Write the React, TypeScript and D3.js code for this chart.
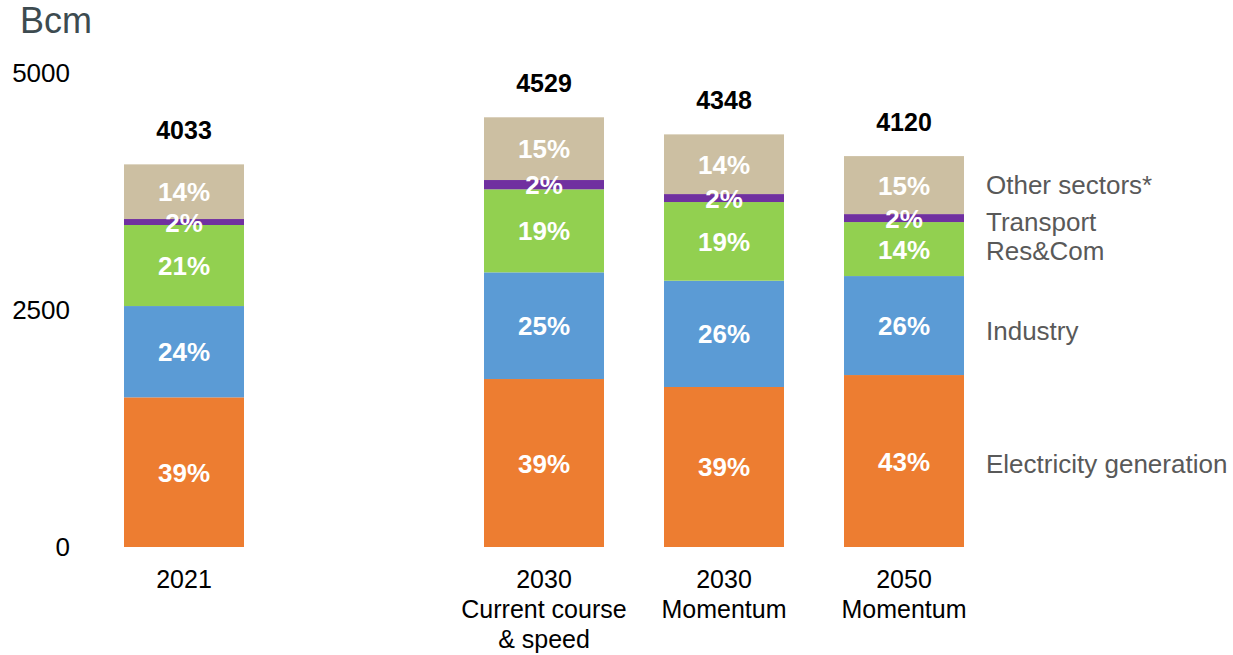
import React from "react";
import * as d3 from "d3";

const categories = ["2021", "gap", "2030 CC", "2030 M", "2050 M"];
const categoryLabels: Record<string, string[]> = {
  "2021": ["2021"],
  "2030 CC": ["2030", "Current course", "& speed"],
  "2030 M": ["2030", "Momentum"],
  "2050 M": ["2050", "Momentum"],
};
const barCategories = ["2021", "2030 CC", "2030 M", "2050 M"];

const sectors = ["Electricity generation", "Industry", "Res&Com", "Transport", "Other sectors*"];
const sectorColors = ["#ED7D31", "#5B9BD5", "#92D050", "#7030A0", "#CCBFA2"];

const electricity = [1577, 1770, 1686, 1812];
const industry = [962, 1124, 1120, 1043];
const resCom = [854, 875, 829, 569];
const transport = [63, 98, 84, 84];
const other = [576, 661, 629, 611];

const electricityPct = ["39%", "39%", "39%", "43%"];
const industryPct = ["24%", "25%", "26%", "26%"];
const resComPct = ["21%", "19%", "19%", "14%"];
const transportPct = ["2%", "2%", "2%", "2%"];
const otherPct = ["14%", "15%", "14%", "15%"];

const totals = [4033, 4529, 4348, 4120];
const yTicks = [0, 2500, 5000];
const legendDy = [3, 5, 2, 4, 0];

const W = 1233;
const H = 655;

export default function App() {
  const y = d3.scaleLinear().domain([0, 5000]).range([547, 72.5]);
  const x = d3
    .scaleBand<string>()
    .domain(categories)
    .range([94, 994])
    .paddingInner(1 / 3)
    .paddingOuter(1 / 6);

  const seriesValues = [electricity, industry, resCom, transport, other];
  const seriesPct = [electricityPct, industryPct, resComPct, transportPct, otherPct];

  const rows = barCategories.map((c, i) => {
    const r: any = { cat: c };
    sectors.forEach((s, k) => (r[s] = seriesValues[k][i]));
    return r;
  });
  const stacked = d3.stack<any>().keys(sectors)(rows);

  const bw = x.bandwidth();
  const font = "Arial, 'Liberation Sans', sans-serif";
  const lastIdx = barCategories.length - 1;

  return (
    <svg
      width={W}
      height={H}
      style={{ position: "absolute", left: 0, top: 0, background: "#fff" }}
      fontFamily={font}
    >
      <text x={20} y={33} fontSize={36} fill="#3D4B50">
        Bcm
      </text>
      {yTicks.map((t) => (
        <text key={t} x={70} y={y(t) + 9.4} fontSize={26} textAnchor="end" fill="#000">
          {t}
        </text>
      ))}
      {stacked.map((layer, k) => (
        <g key={layer.key}>
          {layer.map((d, i) => (
            <rect
              key={i}
              x={x(barCategories[i])}
              y={y(d[1])}
              width={bw}
              height={y(d[0]) - y(d[1])}
              fill={sectorColors[k]}
            />
          ))}
        </g>
      ))}
      {stacked.map((layer, k) => (
        <g key={"l" + layer.key}>
          {layer.map((d, i) => (
            <text
              key={i}
              x={(x(barCategories[i]) as number) + bw / 2}
              y={(y(d[0]) + y(d[1])) / 2 + 9.5}
              fontSize={26}
              fontWeight="bold"
              fill="#fff"
              textAnchor="middle"
            >
              {seriesPct[k][i]}
            </text>
          ))}
        </g>
      ))}
      {barCategories.map((c, i) => (
        <text
          key={c}
          x={(x(c) as number) + bw / 2}
          y={y(totals[i]) - 25}
          fontSize={25}
          fontWeight="bold"
          textAnchor="middle"
          fill="#000"
        >
          {totals[i]}
        </text>
      ))}
      {barCategories.map((c) => (
        <text key={"c" + c} x={(x(c) as number) + bw / 2} fontSize={25} textAnchor="middle" fill="#000">
          {categoryLabels[c].map((line, j) => (
            <tspan key={j} x={(x(c) as number) + bw / 2} y={587.5 + j * 30}>
              {line}
            </tspan>
          ))}
        </text>
      ))}
      {stacked.map((layer, k) => {
        const d = layer[lastIdx];
        return (
          <text
            key={"lg" + layer.key}
            x={(x(barCategories[lastIdx]) as number) + bw + 22}
            y={(y(d[0]) + y(d[1])) / 2 + 9 + legendDy[k]}
            fontSize={26}
            fill="#595959"
          >
            {layer.key}
          </text>
        );
      })}
    </svg>
  );
}
